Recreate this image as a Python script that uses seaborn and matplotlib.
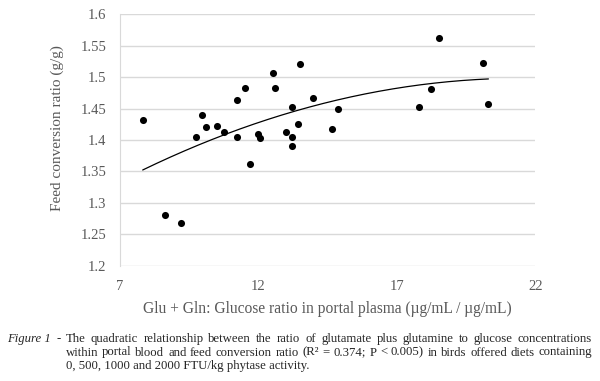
import numpy as np
import pandas as pd
import matplotlib
matplotlib.use('Agg')
import matplotlib.pyplot as plt
import seaborn as sns

# Glu + Gln : glucose ratio vs feed conversion ratio
ratio = [7.82, 8.64, 9.19, 9.73, 9.95, 10.09, 10.50, 10.77, 11.21, 11.22,
         11.52, 11.69, 11.98, 12.07, 12.52, 12.61, 12.98, 13.20, 13.20, 13.21,
         13.42, 13.50, 13.99, 14.67, 14.89, 17.82, 18.25, 18.51, 20.13, 20.31]
fcr = [1.431, 1.281, 1.268, 1.405, 1.439, 1.420, 1.422, 1.412, 1.463, 1.405,
       1.483, 1.362, 1.410, 1.403, 1.506, 1.482, 1.413, 1.453, 1.405, 1.391,
       1.425, 1.521, 1.466, 1.417, 1.450, 1.453, 1.481, 1.562, 1.522, 1.458]
x_ticks = [7, 12, 17, 22]
y_ticks = [1.2, 1.25, 1.3, 1.35, 1.4, 1.45, 1.5, 1.55, 1.6]

caption = ['The quadratic relationship between the ratio of glutamate plus glutamine to glucose concentrations',
           'within portal blood and feed conversion ratio (R² = 0.374; P < 0.005) in birds offered diets containing',
           '0, 500, 1000 and 2000 FTU/kg phytase activity.']

df = pd.DataFrame({'ratio': ratio, 'fcr': fcr})

# quadratic trend line
coef = np.polyfit(df['ratio'], df['fcr'], 2)
xs = np.linspace(df['ratio'].min(), df['ratio'].max(), 200)
trend = pd.DataFrame({'ratio': xs, 'fcr': np.polyval(coef, xs)})

sns.set_style('white')
plt.rcParams['font.family'] = ['Liberation Serif', 'DejaVu Serif']
gray = '#595959'

fig = plt.figure(figsize=(6, 3.81), dpi=100)
ax = fig.add_axes([0.2, 0.3026, 0.692, 0.66])

sns.lineplot(data=trend, x='ratio', y='fcr', color='black', linewidth=0.9, ax=ax, zorder=2)
sns.scatterplot(data=df, x='ratio', y='fcr', color='black', s=26, edgecolor='black',
                linewidth=0, ax=ax, zorder=3)

ax.set_xlim(7, 22)
ax.set_ylim(1.2, 1.6)
ax.set_xticks(x_ticks)
ax.set_yticks(y_ticks)
ax.set_xticklabels([str(t) for t in x_ticks])
ax.set_yticklabels(['%g' % t for t in y_ticks])
ax.yaxis.grid(True, color='#d9d9d9', linewidth=1)
ax.xaxis.grid(False)
for s in ['top', 'right', 'bottom']:
    ax.spines[s].set_visible(False)
ax.spines['left'].set_color('#d9d9d9')
ax.tick_params(axis='both', length=0, labelsize=10.5, labelcolor=gray, pad=10)

ax.set_xlabel('Glu + Gln: Glucose ratio in portal plasma (µg/mL / µg/mL)',
              fontsize=11.2, color=gray)
ax.set_ylabel('Feed conversion ratio (g/g)', fontsize=11, color=gray)
ax.xaxis.set_label_coords(0.5, -0.14)
ax.yaxis.set_label_coords(-0.135, 0.546)

# caption, first two lines justified between x=66 and x=592 px
W, H = 600, 381
cap_size = 9.2
fig.canvas.draw()
r = fig.canvas.get_renderer()
fig.text(7 / W, 1 - 342 / H, 'Figure 1', fontsize=cap_size, style='italic', va='baseline')
fig.text(57 / W, 1 - 342 / H, '-', fontsize=cap_size, va='baseline')


def justify(line, y_px, x0=66, x1=592):
    words = line.split(' ')
    widths = []
    for w in words:
        t = fig.text(0, 0, w, fontsize=cap_size)
        widths.append(t.get_window_extent(renderer=r).width)
        t.remove()
    gap = (x1 - x0 - sum(widths)) / (len(words) - 1)
    x = x0
    for w, wd in zip(words, widths):
        fig.text(x / W, 1 - y_px / H, w, fontsize=cap_size, va='baseline')
        x += wd + gap


justify(caption[0], 342)
justify(caption[1], 355.5)
fig.text(66 / W, 1 - 369 / H, caption[2], fontsize=cap_size, va='baseline')

fig.savefig('out.png', dpi=100)
